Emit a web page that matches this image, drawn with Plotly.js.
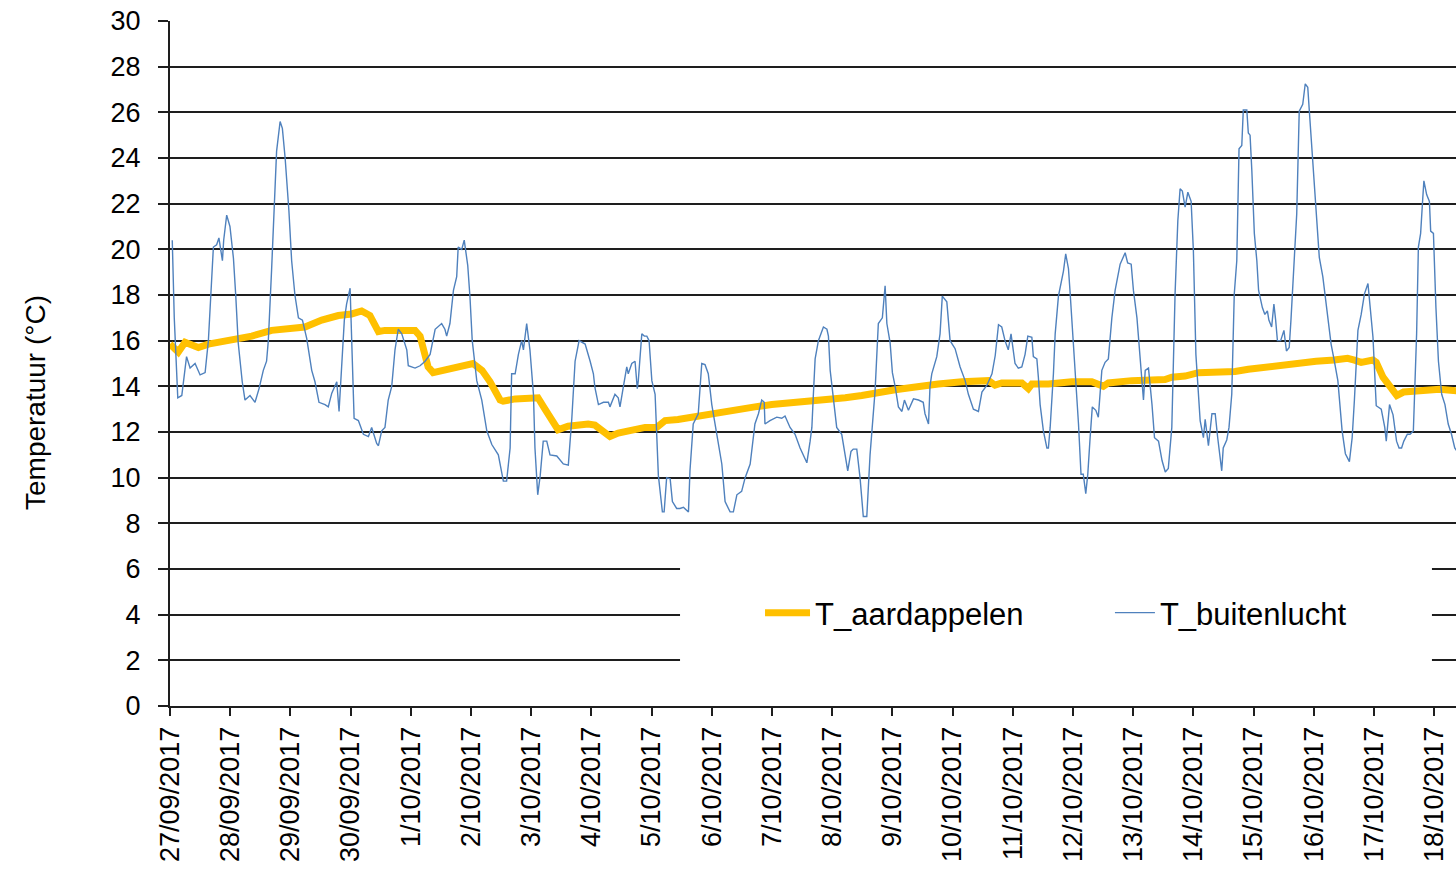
<!DOCTYPE html>
<html><head><meta charset="utf-8">
<script src="https://cdn.plot.ly/plotly-3.0.1.min.js"></script>
<style>html,body{margin:0;padding:0;background:#fff;overflow:hidden}#chart{width:1456px;height:871px}</style>
</head><body><div id="chart"></div>
<script>
// Start of the series: 27/09/2017 00:00; times are hours after the start
const startYear = 2017, startMonth = 9, startDay = 27;
const seriesNames = ['T_aardappelen', 'T_buitenlucht'];
const yAxisTitle = 'Temperatuur (°C)';
const tickLabelFormat = '%-d/%m/%Y';
const rangeEndHours = 512.7;

const hoursAardappelen = [0,3.3,6.0,11.3,15.3,24.6,32.6,40.5,49.8,53.8,60.5,67.1,72.4,76.4,79.7,83.1,85.7,97.7,99.7,100.9,102.9,104.9,110.8,116.4,120.8,124.4,127.6,131.6,132.8,137.6,146.7,149.5,152.3,154.7,158.7,166.7,169.4,172.1,175.4,178.7,182.7,189.4,194.0,197.4,202.5,208.0,213.3,221.3,226.5,233.2,239.9,245.2,253.2,255.9,262.5,269.2,275.8,282.4,289.1,295.7,302.4,306.3,315.7,326.3,328.9,331.6,339.6,342.2,343.6,350.2,359.5,367.5,372.1,374.1,383.4,391.4,396.7,399.4,404.7,410.0,416.6,424.6,429.9,436.6,443.4,450.2,456.9,464.1,469.5,472.2,474.9,479.6,480.9,483.6,486.3,489.1,491.8,497.0,503.7,506.1,514.0];
const tAardappelen = [15.85,15.5,15.93,15.7,15.85,16.0,16.2,16.45,16.6,16.6,16.9,17.1,17.17,17.3,17.1,16.4,16.45,16.45,16.2,15.7,14.85,14.6,14.75,14.9,15.0,14.7,14.2,13.4,13.35,13.45,13.5,13.0,12.5,12.1,12.25,12.35,12.3,12.1,11.8,11.95,12.05,12.2,12.2,12.5,12.55,12.65,12.8,12.9,13.0,13.1,13.2,13.25,13.3,13.4,13.45,13.5,13.6,13.75,13.85,13.95,14.0,14.1,14.2,14.25,14.05,14.15,14.15,13.9,14.1,14.1,14.2,14.2,14.0,14.15,14.25,14.27,14.3,14.4,14.45,14.6,14.6,14.65,14.75,14.85,14.9,15.0,15.1,15.15,15.23,15.15,15.05,15.15,15.05,14.4,13.95,13.6,13.75,13.78,13.8,13.87,13.8];

const hoursBuitenlucht = [0.9,1.7,3.1,4.7,6.6,8.0,10.0,12.0,14.0,15.3,17.3,18.6,19.5,20.9,21.4,22.6,23.9,25.3,26.2,27.2,28.8,29.9,31.9,33.9,35.5,37.2,38.5,39.2,40.5,41.6,42.5,43.9,44.8,45.9,47.4,48.5,49.8,51.2,52.8,54.5,56.5,57.8,59.4,61.8,63.1,64.5,66.5,67.4,69.5,70.4,71.8,73.4,75.1,77.1,79.1,80.4,82.4,83.1,84.4,85.7,87.0,88.4,89.7,91.0,92.4,94.4,95.0,97.7,99.7,101.7,103.7,105.7,108.3,109.6,110.3,111.6,113.0,114.3,114.9,116.3,117.3,118.7,119.6,120.5,122.3,124.3,126.3,128.3,130.9,132.9,134.2,135.6,136.2,137.6,138.9,140.2,140.9,142.2,143.5,144.9,145.5,146.6,147.6,148.8,150.2,151.5,154.2,156.8,158.8,160.2,161.5,163.1,165.5,167.5,168.8,169.4,170.8,172.8,174.8,175.4,177.4,178.7,179.4,180.7,182.1,182.7,184.1,185.4,186.3,186.7,188.1,189.1,190.1,191.0,192.1,193.4,194.7,196.3,197.0,198.0,199.4,200.3,202.0,203.3,204.7,206.7,207.3,208.6,210.6,212.0,213.3,214.6,216.0,218.0,220.0,221.3,223.3,224.6,226.0,227.9,229.3,231.3,233.2,234.6,235.9,236.9,237.2,239.2,241.9,243.9,245.2,247.2,249.2,251.2,253.9,255.2,255.9,256.5,257.2,258.5,260.5,261.9,262.5,263.2,264.5,265.8,267.8,269.2,270.2,271.5,272.4,273.8,275.1,276.4,277.8,279.1,280.0,281.1,282.4,284.0,285.1,285.8,287.1,288.0,289.1,290.4,291.8,292.8,294.4,296.4,298.4,300.3,301.0,302.4,303.0,303.7,305.7,307.0,307.9,309.7,311.0,313.0,315.0,317.0,318.3,320.3,322.3,323.7,325.7,327.7,329.0,330.3,331.6,332.9,334.2,335.3,336.9,338.2,339.6,340.9,342.0,343.6,344.2,345.6,346.2,346.9,348.2,349.6,350.2,350.9,352.2,352.9,354.2,355.5,356.2,357.1,358.2,358.8,359.5,360.1,361.1,362.2,363.2,364.1,365.1,365.9,366.8,367.7,369.1,370.1,371.5,372.8,374.1,375.5,376.8,378.8,380.8,381.8,383.2,384.1,385.5,386.8,388.1,388.8,390.1,391.5,392.5,394.1,395.5,396.8,398.0,399.4,400.7,401.8,402.7,403.6,404.7,405.8,407.1,408.0,409.0,410.7,412.0,412.7,414.0,415.4,416.7,417.7,418.6,419.3,419.9,421.3,422.2,423.3,424.3,425.3,426.2,427.3,427.9,429.3,429.9,430.6,431.3,432.3,433.3,434.0,435.5,436.5,437.5,438.1,439.2,440.1,440.8,441.5,442.8,444.1,445.1,446.2,446.9,448.2,449.2,450.2,451.6,452.6,453.6,454.2,455.6,456.9,458.2,459.6,461.6,462.9,464.2,465.6,467.3,468.6,470.2,471.3,472.2,473.6,474.9,476.2,477.6,478.5,479.6,480.9,482.9,484.3,484.9,486.2,487.6,489.0,490.0,491.0,491.9,493.3,494.4,495.7,497.0,497.7,498.6,499.4,499.9,501.0,502.1,502.6,503.7,504.7,505.7,507.0,508.3,509.6,510.9,512.2,513.2];
const tBuitenlucht = [20.4,17.0,13.5,13.6,15.3,14.8,15.0,14.5,14.6,16.0,20.1,20.2,20.5,19.5,20.4,21.5,21.0,19.6,18.0,15.9,14.2,13.4,13.6,13.3,13.9,14.7,15.1,16.0,19.1,22.0,24.3,25.6,25.3,24.0,21.7,19.5,18.0,17.0,16.9,16.1,14.7,14.2,13.3,13.2,13.1,13.7,14.2,12.9,16.9,17.6,18.3,12.6,12.5,11.9,11.8,12.2,11.5,11.4,12.05,12.2,13.4,14.0,15.6,16.5,16.3,15.6,14.9,14.8,14.9,15.1,15.4,16.5,16.75,16.5,16.2,16.75,18.2,18.8,20.1,20.0,20.4,19.3,17.9,16.0,14.25,13.4,12.05,11.45,11.0,9.85,9.85,11.3,14.55,14.55,15.4,16.0,15.6,16.75,15.6,13.65,11.3,9.25,10.1,11.6,11.6,11.0,10.95,10.6,10.55,12.6,15.1,16.0,15.85,15.1,14.55,13.95,13.2,13.3,13.3,13.1,13.65,13.5,13.1,13.95,14.85,14.55,15.0,15.1,13.9,14.25,16.3,16.2,16.2,16.0,14.25,13.65,10.1,8.5,8.5,10.0,9.95,8.95,8.65,8.65,8.7,8.5,10.3,12.35,12.8,15.0,14.95,14.55,13.2,11.9,10.6,8.95,8.5,8.5,9.25,9.4,10.0,10.6,12.35,12.8,13.4,13.3,12.35,12.5,12.65,12.6,12.7,12.2,11.9,11.3,10.65,11.6,12.2,13.65,15.2,16.0,16.6,16.5,16.2,14.7,13.4,12.2,11.9,11.0,10.3,11.15,11.25,11.25,10.0,8.3,8.3,11.0,12.35,13.8,16.75,17.0,18.4,16.75,15.9,14.6,14.0,13.1,12.9,13.4,12.95,13.45,13.4,13.3,12.8,12.35,14.0,14.55,15.3,16.3,17.95,17.7,16.0,15.65,14.85,14.25,13.65,13.0,12.9,13.75,14.05,14.55,15.35,16.7,16.6,16.0,15.6,16.3,15.0,14.8,14.85,15.4,16.2,16.15,15.3,15.2,14.4,13.2,12.05,11.3,11.3,12.2,14.55,16.3,17.95,18.6,19.05,19.8,19.15,18.2,17.0,16.3,14.25,12.35,10.15,10.15,9.3,10.15,11.7,13.1,12.95,12.65,14.7,15.05,15.2,17.0,18.2,19.35,19.85,19.4,19.35,18.2,17.0,15.0,13.4,14.7,14.8,13.2,11.75,11.6,10.75,10.25,10.4,12.2,18.05,21.25,22.65,22.55,21.85,22.5,22.1,19.95,15.4,12.5,11.75,12.55,11.4,12.8,12.8,11.75,10.75,10.3,11.3,11.65,12.2,13.65,18.05,19.5,24.4,24.55,26.1,26.1,25.1,25.0,23.45,20.7,19.5,18.2,17.45,17.15,17.3,16.9,16.6,17.6,16.9,16.0,16.0,16.45,15.55,15.7,16.9,19.35,21.55,26.05,26.35,27.25,27.1,26.1,23.9,22.0,19.65,18.8,17.15,15.85,15.1,14.25,12.05,11.05,10.7,11.75,13.4,16.45,17.15,18.05,18.5,17.45,16.15,13.15,13.0,12.2,11.6,13.2,12.75,11.6,11.3,11.3,11.6,11.9,11.9,12.05,16.3,20.1,20.7,22.15,23.0,22.4,22.1,20.8,20.7,17.45,15.1,13.65,13.2,12.35,11.9,11.3,11.15];

const t0 = Date.UTC(startYear, startMonth - 1, startDay);
const toMs = h => t0 + h * 3600000;

const font = 'Arial, "Liberation Sans", sans-serif';
const gridCol = '#1e1e1e';

const traces = [
  {
    x: hoursAardappelen.map(toMs), y: tAardappelen, name: seriesNames[0],
    type: 'scatter', mode: 'lines', legend: 'legend',
    line: {color: '#FFC000', width: 7, shape: 'linear'}
  },
  {
    x: hoursBuitenlucht.map(toMs), y: tBuitenlucht, name: seriesNames[1],
    type: 'scatter', mode: 'lines', legend: 'legend2',
    line: {color: '#4F81BD', width: 1.4}
  }
];

const legendFont = {family: font, size: 31, color: '#000'};

const layout = {
  width: 1456, height: 871,
  margin: {l: 170, r: 0, t: 21, b: 165, pad: 0},
  paper_bgcolor: '#fff', plot_bgcolor: '#fff',
  font: {family: font, color: '#000', size: 27},
  showlegend: true,
  legend: {
    orientation: 'h', x: 0.4588, xanchor: 'left', y: 0.1358, yanchor: 'middle',
    bgcolor: 'rgba(0,0,0,0)', borderwidth: 0, itemwidth: 45,
    font: legendFont
  },
  legend2: {
    orientation: 'h', x: 0.7309, xanchor: 'left', y: 0.1358, yanchor: 'middle',
    bgcolor: 'rgba(0,0,0,0)', borderwidth: 0, itemwidth: 40,
    font: legendFont
  },
  shapes: [{
    type: 'rect', xref: 'paper', yref: 'paper', layer: 'above',
    x0: 0.3966, x1: 0.9813, y0: 0.012, y1: 0.245,
    fillcolor: '#fff', line: {width: 0}
  }],
  annotations: [{
    text: yAxisTitle, xref: 'paper', yref: 'paper',
    x: -0.1042, y: 0.4438, xanchor: 'center', yanchor: 'middle',
    textangle: -90, showarrow: false,
    font: {family: font, size: 28, color: '#000'}
  }],
  xaxis: {
    type: 'date',
    range: [t0, toMs(rangeEndHours)],
    tick0: t0, dtick: 86400000,
    tickformat: tickLabelFormat,
    tickangle: -90,
    ticks: 'outside', ticklen: 8, tickwidth: 2, tickcolor: gridCol,
    showgrid: false, zeroline: false,
    showline: true, linecolor: gridCol, linewidth: 2,
    tickfont: {family: font, size: 27, color: '#000'},
    automargin: false
  },
  yaxis: {
    range: [0, 30], dtick: 2, tick0: 0,
    ticks: 'outside', ticklen: 10, tickwidth: 2, tickcolor: gridCol,
    showgrid: true, gridcolor: gridCol, gridwidth: 2,
    zeroline: false, showline: true, linecolor: gridCol, linewidth: 2,
    tickfont: {family: font, size: 27, color: '#000'},
    ticklabelstandoff: 12,
    automargin: false
  }
};

Plotly.newPlot('chart', traces, layout, {displayModeBar: false, staticPlot: true});
</script>
</body></html>
